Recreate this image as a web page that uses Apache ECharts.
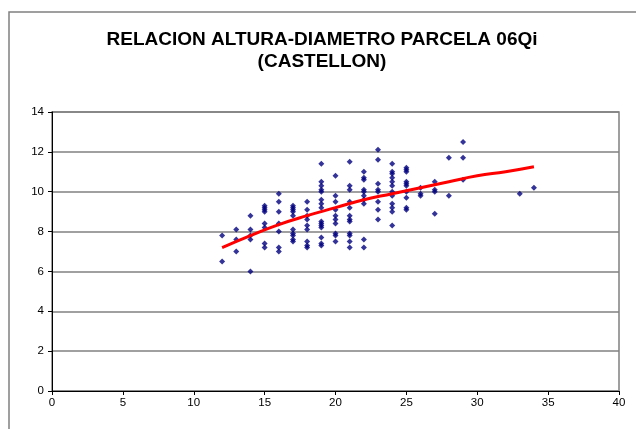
<!DOCTYPE html>
<html>
<head>
<meta charset="utf-8">
<script src="https://cdn.jsdelivr.net/npm/echarts@6/dist/echarts.min.js"></script>
<style>
  html, body { margin: 0; padding: 0; background: #fff; }
  #main { width: 636px; height: 429px; }
</style>
</head>
<body>
<div id="main"></div>
<script>
// diametro (x) y alturas medidas en cada diametro (y)
const diametros = [12, 13, 14, 15, 16, 17, 18, 19, 20, 21, 22, 23, 24, 25, 26, 27, 28, 29, 33, 34];
const alturas = [
  [7.8, 6.5],
  [8.1, 7.6, 7.0],
  [8.8, 8.1, 7.8, 7.6, 6.0],
  [9.3, 9.2, 9.1, 9.0, 8.4, 8.2, 7.4, 7.2],
  [9.9, 9.5, 9.0, 8.4, 8.0, 7.2, 7.0],
  [9.3, 9.2, 9.1, 9.0, 8.8, 8.1, 7.9, 7.8, 7.6, 7.5],
  [9.5, 9.1, 8.8, 8.6, 8.3, 8.1, 7.5, 7.3, 7.2],
  [11.4, 10.5, 10.3, 10.1, 10.0, 9.6, 9.4, 9.2, 8.5, 8.4, 8.3, 8.2, 7.7, 7.4, 7.3],
  [10.8, 9.8, 9.5, 9.1, 8.8, 8.6, 8.4, 7.9, 7.8, 7.5],
  [11.5, 10.3, 10.1, 9.5, 9.2, 8.8, 8.6, 8.5, 7.9, 7.8, 7.5, 7.2],
  [11.0, 10.7, 10.6, 10.1, 10.0, 9.8, 9.6, 9.4, 7.6, 7.2],
  [12.1, 11.6, 10.4, 10.1, 10.0, 9.5, 9.1, 8.6],
  [11.4, 11.0, 10.9, 10.7, 10.5, 10.3, 10.0, 9.8, 9.4, 9.2, 9.0, 8.3],
  [11.2, 11.1, 11.0, 10.5, 10.4, 10.3, 10.0, 9.7, 9.2, 9.1],
  [10.2, 9.9, 9.8],
  [10.5, 10.1, 10.0, 8.9],
  [11.7, 9.8],
  [12.5, 11.7, 10.6],
  [9.9],
  [10.2]
];

// linea de tendencia
const tendenciaX = [12, 14, 16, 18, 20, 22, 24, 26, 28, 30, 32, 34];
const tendenciaY = [7.2, 7.8, 8.35, 8.8, 9.2, 9.6, 9.9, 10.2, 10.5, 10.8, 11.0, 11.25];

const ticksX = [0, 5, 10, 15, 20, 25, 30, 35, 40];
const ticksY = [0, 2, 4, 6, 8, 10, 12, 14];

const puntos = [];
diametros.forEach((d, i) => {
  alturas[i].forEach(h => puntos.push([d, h]));
});
const tendencia = tendenciaX.map((x, i) => [x, tendenciaY[i]]);

const chart = echarts.init(document.getElementById("main"), null, { renderer: "canvas" });

const option = {
  animation: false,
  backgroundColor: "#fff",
  textStyle: { fontFamily: "Liberation Sans, Arial, sans-serif" },
  title: {
    text: "RELACION ALTURA-DIAMETRO PARCELA 06Qi\n(CASTELLON)",
    left: 317,
    top: 24,
    textAlign: "center",
    textStyle: {
      fontFamily: "Liberation Sans, Arial, sans-serif",
      fontSize: 19,
      fontWeight: "bold",
      color: "#000",
      lineHeight: 22
    }
  },
  graphic: [{
    type: "rect",
    shape: { x: 9, y: 12, width: 800, height: 600 },
    style: { fill: null, stroke: "#808080", lineWidth: 1.5 },
    silent: true
  }],
  grid: {
    left: 52,
    right: 17,
    top: 112,
    bottom: 38,
    show: true,
    borderColor: "#808080",
    borderWidth: 1.5
  },
  xAxis: {
    type: "value",
    min: ticksX[0],
    max: ticksX[ticksX.length - 1],
    interval: 5,
    axisLine: { show: true, onZero: false, lineStyle: { color: "#000", width: 1 } },
    axisTick: { show: true, inside: false, length: 4, lineStyle: { color: "#000" } },
    axisLabel: { color: "#000", fontSize: 11.5, margin: 6 },
    splitLine: { show: false }
  },
  yAxis: {
    type: "value",
    min: ticksY[0],
    max: ticksY[ticksY.length - 1],
    interval: 2,
    axisLine: { show: true, onZero: false, lineStyle: { color: "#000", width: 1 } },
    axisTick: { show: true, inside: false, length: 4, lineStyle: { color: "#000" } },
    axisLabel: { color: "#000", fontSize: 11.5, margin: 8 },
    splitLine: { show: true, lineStyle: { color: "#808080", width: 1.5 } }
  },
  series: [
    {
      name: "Altura",
      type: "scatter",
      data: puntos,
      symbol: "diamond",
      symbolSize: 6,
      itemStyle: { color: "#000080" },
      z: 3
    },
    {
      name: "Tendencia",
      type: "line",
      data: tendencia,
      smooth: true,
      showSymbol: false,
      lineStyle: { color: "#ff0000", width: 3 },
      z: 4
    }
  ]
};

chart.setOption(option);
</script>
</body>
</html>
